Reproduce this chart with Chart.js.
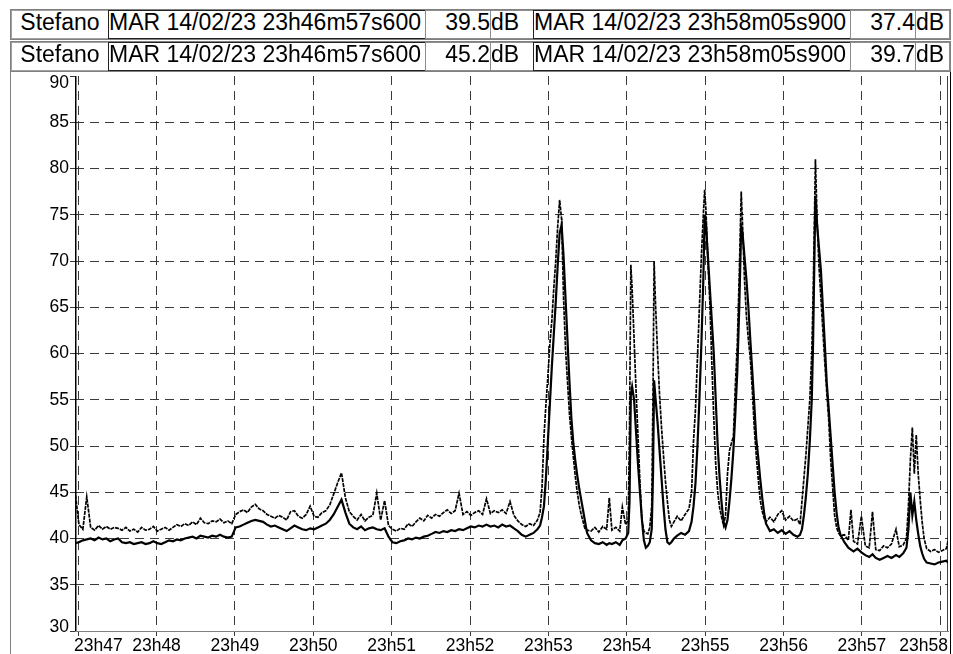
<!DOCTYPE html>
<html>
<head>
<meta charset="utf-8">
<script src="https://cdn.jsdelivr.net/npm/chart.js@4.4.0/dist/chart.umd.min.js"></script>
<style>
    body { margin: 0; background: #fff; font-family: "Liberation Sans", Arial, sans-serif; }
    #wrap { position: relative; width: 953px; height: 654px; overflow: hidden; background: #fff; }
    #panel { position: absolute; left: 10px; top: 72px; width: 941px; height: 600px; box-sizing: border-box;
             border-left: 1px solid #808080; border-right: 1px solid #000; }
    #chart { position: absolute; left: 0; top: 0; }
    .row { position: absolute; left: 10px; width: 941px; height: 31px; box-sizing: border-box;
           border: 1px solid #808080; background: #fff; z-index: 2; }
    .cell { position: absolute; top: 0; height: 29px; box-sizing: border-box; border: 1px solid #8c8c8c;
            font-size: 23px; line-height: 22px; white-space: nowrap; overflow: hidden; color: #000; background: #fff; }
    .name { left: 0; width: 98px; text-align: center; border-color: #a0a0a0; }
    .date { text-align: left; border-color: #222; }
    .val { text-align: right; }
    .unit { text-align: left; }
</style>
</head>
<body>
<div id="wrap">
    <div id="panel"></div>
    <canvas id="chart" width="953" height="654"></canvas>

    <div class="row" style="top:9px">
        <div class="cell name">Stefano</div>
        <div class="cell date" style="left:97px;width:318px">MAR 14/02/23 23h46m57s600</div>
        <div class="cell val" style="left:414px;width:66px">39.5</div>
        <div class="cell unit" style="left:479px;width:44px">dB</div>
        <div class="cell date" style="left:522px;width:318px">MAR 14/02/23 23h58m05s900</div>
        <div class="cell val" style="left:839px;width:66px">37.4</div>
        <div class="cell unit" style="left:904px;width:35px">dB</div>
    </div>
    <div class="row" style="top:41px">
        <div class="cell name">Stefano</div>
        <div class="cell date" style="left:97px;width:318px">MAR 14/02/23 23h46m57s600</div>
        <div class="cell val" style="left:414px;width:66px">45.2</div>
        <div class="cell unit" style="left:479px;width:44px">dB</div>
        <div class="cell date" style="left:522px;width:318px">MAR 14/02/23 23h58m05s900</div>
        <div class="cell val" style="left:839px;width:66px">39.7</div>
        <div class="cell unit" style="left:904px;width:35px">dB</div>
    </div>
</div>

<script>
// seconds since 23h46m57s600
const times = [
    0, 3, 6, 9, 12, 15, 18, 21, 24, 27, 30, 33, 36, 39, 42, 45, 48, 51, 54, 57,
    60, 63, 66, 69, 72, 75, 78, 81, 84, 87, 90, 93, 96, 99, 102, 105, 108, 111, 114, 117,
    120, 123, 126, 129, 132, 135, 138, 141, 144, 147, 150, 153, 156, 159, 162, 165, 168, 171, 174, 177,
    180, 183, 186, 189, 192, 195, 198, 201, 204, 207, 210, 213, 216, 219, 222, 225, 228, 231, 234, 237,
    240, 243, 246, 249, 252, 255, 258, 261, 264, 267, 270, 273, 276, 279, 282, 285, 288, 291, 294, 297,
    300, 303, 306, 309, 312, 315, 318, 321, 324, 327, 330, 333, 336, 339, 342, 345, 348, 351, 354,
    // first peak
    356, 357.5, 359, 360.5, 362, 363.5, 365, 366.5, 368, 369.5, 371, 372.5, 374, 375.5, 377, 378.5,
    380, 381.5, 383, 384.5, 386, 387.5, 389, 390.5, 392,
    395, 398, 401, 404, 407, 409, 411, 414, 417, 419, 421.5, 423.5,
    // two narrow spikes
    424.5, 425.5, 426.5, 428, 429.5, 431, 432.5, 434, 435.5, 437, 438.5, 440,
    441.5, 442.5, 443.3, 444.5, 446, 447.5, 449, 450.5, 452, 453.5, 455, 456.5,
    458.5, 461, 464, 467, 470,
    // double peak
    472, 473.5, 475, 476.5, 478, 479.5, 481, 482, 483, 484.5, 486, 487.5, 489, 490.5, 492, 493.5,
    495, 496.5, 498, 499.5, 501, 502.5, 504, 505.5, 507, 508.5, 510, 511, 512.5, 514, 515.5, 517,
    518.5, 520, 521.5, 523, 524.5, 526, 527.5, 529,
    532, 535, 538, 541, 544, 547, 550, 553,
    // highest peak
    555, 556.5, 558, 559.5, 561, 562.5, 564, 565, 566, 566.8, 568, 569.5, 571, 572.5, 574, 575.5,
    577, 578.5, 580, 581.5, 583, 584.5, 586,
    589, 592, 594, 596, 599, 602, 605, 608, 610.5, 613, 616, 619, 622, 625, 628.5, 631, 634,
    // last small peak
    636.5, 638, 639.5, 641, 642.5, 644, 645.5, 647, 648.5, 650, 652, 655, 658, 661, 664, 667, 668.3
];

const levelA = [
    39.5, 39.6, 39.8, 39.9, 40.0, 39.8, 40.1, 39.9, 40.0, 39.7, 39.9, 40.0, 39.6, 39.5, 39.6, 39.4, 39.5, 39.6, 39.4, 39.5,
    39.7, 39.5, 39.4, 39.6, 39.8, 39.7, 39.9, 39.8, 40.0, 40.1, 40.2, 40.0, 40.3, 40.2, 40.1, 40.3, 40.2, 40.4, 40.2, 40.1,
    40.2, 41.2, 41.3, 41.5, 41.7, 41.9, 42.0, 41.9, 41.8, 41.5, 41.3, 41.4, 41.2, 41.0, 40.8, 41.1, 41.4, 41.2, 41.0, 40.9,
    41.1, 41.0, 41.2, 41.4, 41.6, 42.0, 42.6, 43.4, 44.2, 42.8, 41.6, 41.2, 41.0, 41.3, 40.9, 41.1, 41.2, 41.0, 40.9, 41.1,
    40.2, 39.6, 39.5, 39.7, 39.8, 40.0, 39.9, 40.1, 40.0, 40.2, 40.3, 40.5, 40.7, 40.6, 40.8, 40.7, 40.9, 40.8, 41.0, 40.9,
    41.1, 41.3, 41.2, 41.4, 41.3, 41.5, 41.3, 41.4, 41.2, 41.5, 41.3, 41.4, 41.1, 40.8, 40.4, 40.2, 40.4, 40.6, 41.0,
    41.4, 42.3, 43.5, 46.5, 50.5, 54.5, 58.5, 62.0, 65.5, 69.5, 73.0, 73.9, 70.5, 66.0, 61.5, 57.0,
    53.0, 50.3, 48.4, 46.8, 45.4, 44.2, 43.0, 41.8, 40.6,
    39.8, 39.5, 39.4, 39.6, 39.3, 39.5, 39.4, 39.6, 39.3, 39.8, 40.0, 40.6,
    44.0, 55.5, 56.4, 55.0, 51.5, 48.0, 45.0, 42.0, 39.8, 39.0, 39.2, 39.6,
    41.0, 47.0, 57.1, 55.0, 52.5, 49.5, 46.5, 43.5, 41.0, 39.6, 39.4, 39.6,
    40.0, 40.3, 40.6, 40.4, 40.8,
    41.8, 43.5, 46.0, 50.0, 55.0, 61.0, 68.0, 75.0, 74.0, 70.5, 67.0, 63.5, 60.0, 55.0, 50.0, 46.5,
    43.8, 41.8, 41.2, 42.0, 44.0, 46.5, 49.5, 53.5, 58.0, 65.0, 73.7, 73.0, 70.5, 68.0, 65.0, 61.4,
    58.0, 54.5, 50.8, 48.8, 46.5, 44.5, 42.8, 41.6,
    40.8, 41.0, 40.6, 40.9, 40.5, 40.8, 40.4, 40.2,
    40.4, 41.0, 42.5, 44.5, 47.0, 50.5, 55.0, 61.0, 70.0, 77.0, 74.0, 71.5, 69.0, 65.0, 61.0, 56.8,
    54.0, 51.0, 48.0, 45.0, 42.8, 41.2, 40.4,
    39.6, 39.0, 38.8, 38.6, 38.9, 38.5, 38.2, 38.0, 38.3, 37.9, 37.7, 37.9, 38.1, 37.9, 38.2, 38.0, 38.4,
    39.0, 41.0, 45.0, 42.5, 44.0, 42.0, 40.5, 39.2, 38.4, 37.8, 37.4, 37.3, 37.2, 37.4, 37.5, 37.6, 37.4
];

const levelB = [
    45.2, 41.5, 41.0, 44.5, 41.2, 40.9, 41.4, 41.0, 41.3, 41.0, 41.2, 41.1, 40.9, 41.2, 40.8, 41.0, 40.7, 41.2, 40.9, 41.0,
    41.3, 40.8, 41.0, 41.2, 40.9, 41.2, 41.5, 41.3, 41.6, 41.4, 41.8, 41.5, 42.2, 41.7, 41.6, 41.9, 41.8, 42.1, 41.7, 41.9,
    41.6, 42.6, 42.9, 43.1, 42.8, 43.4, 43.7, 43.2, 43.0, 42.6, 42.4, 42.2, 42.5, 42.3, 42.0, 42.9, 43.0, 42.4, 42.2, 42.6,
    43.5, 42.4, 42.3, 42.8, 43.0, 43.6, 44.8, 46.0, 47.1, 44.4, 42.9, 42.4, 42.0, 42.6, 41.9, 42.3, 42.5, 44.9, 42.0, 44.1,
    41.4, 41.0, 40.8, 41.1, 41.0, 41.6, 41.3, 41.8, 42.2, 41.9, 42.5, 42.2, 42.6, 42.4, 42.8, 43.1, 42.7, 43.0, 44.9, 42.6,
    42.9, 42.5, 42.8, 43.0, 42.6, 44.3, 42.7, 43.0, 42.8, 43.1, 42.7, 44.0, 42.5, 41.9, 41.5, 41.3, 41.6, 41.4, 42.0,
    42.8, 45.5, 51.0, 54.5, 57.5, 61.0, 63.5, 67.0, 70.0, 73.7, 76.6, 74.5, 66.0, 60.5, 57.0, 53.5,
    51.0, 48.8, 46.7, 45.0, 43.6, 42.6, 41.8, 41.0, 40.9,
    40.8, 41.2, 40.7, 41.3, 41.0, 44.4, 40.9, 41.2, 40.8, 43.4, 41.5, 42.0,
    52.0, 69.6, 67.0, 61.5, 56.0, 51.0, 46.0, 42.0, 40.8, 40.6, 40.5, 41.2,
    43.5, 56.0, 70.0, 65.0, 60.0, 55.5, 52.0, 49.0, 46.2, 44.0, 42.0, 41.3,
    41.8, 42.4, 41.9, 42.6, 43.2,
    45.0, 50.6, 54.0, 59.5, 65.0, 70.5, 75.0, 77.7, 75.5, 70.0, 65.5, 59.0, 53.0, 48.0, 45.0, 43.3,
    42.3, 41.4, 42.5, 47.0, 49.5, 50.3, 51.0, 56.5, 61.0, 68.5, 77.5, 74.0, 68.0, 64.0, 61.5, 59.4,
    56.0, 52.0, 49.0, 46.5, 44.2, 43.0, 42.2, 41.8,
    42.3, 41.8, 42.6, 43.0, 42.0, 42.4, 41.9, 42.1,
    41.5, 44.0, 46.5, 49.0, 52.0, 55.0, 60.0, 66.0, 74.0, 81.0, 75.0, 69.5, 66.0, 62.5, 59.0, 55.8,
    52.8, 48.5, 45.5, 42.5, 41.2, 40.6, 40.3,
    40.4, 39.8, 43.1, 39.7, 39.4, 42.4, 39.2, 39.0, 42.9, 38.8, 38.7, 39.2, 39.0, 39.4, 41.0, 39.1, 39.3,
    40.0, 43.5, 48.5, 52.0, 47.0, 51.2, 47.0, 44.2, 41.8, 40.0, 38.9, 38.6, 38.8, 38.5, 38.7, 38.9, 39.7
];

// the two cursors: start and end of the window
const cursorTimes = [0, 668.3];

const yTicks = [30, 35, 40, 45, 50, 55, 60, 65, 70, 75, 80, 85, 90];
const xTickTimes = [2.4, 62.4, 122.4, 182.4, 242.4, 302.4, 362.4, 422.4, 482.4, 542.4, 602.4, 662.4];
const xTickLabels = ['23h47', '23h48', '23h49', '23h50', '23h51', '23h52', '23h53', '23h54', '23h55', '23h56', '23h57', '23h58'];

function toPoints(values) {
    return times.map((t, i) => ({ x: t, y: values[i] }));
}

function cursorLine(t) {
    return [{ x: t, y: yTicks[0] }, { x: t, y: yTicks[yTicks.length - 1] }];
}

// Tick labels, kept inside the plot box like the original
const axisLabels = {
    id: 'axisLabels',
    afterDraw(chart) {
        const { ctx, scales: { x, y } } = chart;
        ctx.save();
        ctx.font = '17.5px "Liberation Sans", Arial, sans-serif';
        ctx.fillStyle = '#000';
        ctx.textBaseline = 'middle';

        ctx.textAlign = 'right';
        yTicks.forEach(v => {
            let py = y.getPixelForValue(v);
            py = Math.min(Math.max(py, y.top + 7), y.bottom - 4);
            ctx.fillText(String(v), x.left - 6, py);
        });

        ctx.textAlign = 'center';
        xTickTimes.forEach((t, i) => {
            const label = xTickLabels[i];
            const w = ctx.measureText(label).width;
            let px = x.getPixelForValue(t);
            px = Math.min(Math.max(px, x.left - 1 + w / 2), x.right - w / 2);
            ctx.fillText(label, px, x.top + 15);
        });
        ctx.restore();
    }
};

document.addEventListener('DOMContentLoaded', function() {
    const ctx = document.getElementById('chart').getContext('2d');
    new Chart(ctx, {
        type: 'line',
        data: {
            datasets: [
                { data: toPoints(levelB), borderColor: '#000', borderWidth: 1.7, borderDash: [4, 1] },
                { data: toPoints(levelA), borderColor: '#000', borderWidth: 2.2 },
                { data: cursorLine(cursorTimes[0]), borderColor: '#000', borderWidth: 3 },
                { data: cursorLine(cursorTimes[1]), borderColor: '#000', borderWidth: 1.5 }
            ]
        },
        options: {
            responsive: false,
            animation: false,
            devicePixelRatio: 1,
            layout: { padding: { top: 76, right: 5, bottom: 0, left: 0 } },
            elements: { point: { radius: 0 }, line: { tension: 0 } },
            plugins: { legend: { display: false }, tooltip: { enabled: false } },
            scales: {
                x: {
                    type: 'linear',
                    min: cursorTimes[0],
                    max: cursorTimes[1],
                    afterBuildTicks: axis => { axis.ticks = xTickTimes.map(v => ({ value: v })); },
                    afterFit: axis => { axis.height = 23; },
                    ticks: { display: false },
                    grid: { color: '#3a3a3a', tickColor: '#3a3a3a', tickLength: 5 },
                    border: { display: true, color: '#808080', width: 1, dash: [9, 6] }
                },
                y: {
                    min: yTicks[0],
                    max: yTicks[yTicks.length - 1],
                    afterBuildTicks: axis => { axis.ticks = yTicks.map(v => ({ value: v })); },
                    afterFit: axis => { axis.width = 75; },
                    ticks: { display: false },
                    grid: {
                        color: c => (c.tick && (c.tick.value === 90 || c.tick.value === 30)) ? 'rgba(0,0,0,0)' : '#3a3a3a',
                        tickColor: '#3a3a3a',
                        tickLength: 5
                    },
                    border: { display: false, dash: [9, 6] }
                }
            }
        },
        plugins: [axisLabels]
    });
});
</script>
</body>
</html>
